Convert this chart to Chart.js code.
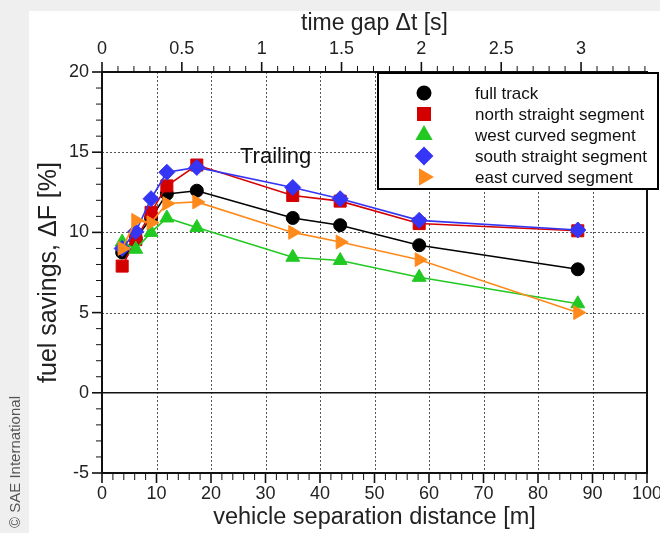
<!DOCTYPE html>
<html>
<head>
<meta charset="utf-8">
<script src="https://cdn.jsdelivr.net/npm/chart.js@4/dist/chart.umd.min.js"></script>
<style>
    html, body { margin: 0; padding: 0; background: #ffffff; }
    #wrap { width: 660px; height: 533px; }
</style>
</head>
<body>
<div id="wrap"><canvas id="fuelChart" width="660" height="533"></canvas></div>
<script>
/* -------------------------------------------------
    DATA
------------------------------------------------- */
const distance      = [3.7, 6.2, 9.0, 11.9, 17.4, 35.0, 43.7, 58.2, 87.3];
const fullTrack     = [8.75, 9.6, 10.9, 12.4, 12.6, 10.9, 10.45, 9.2, 7.7];
const northStraight = [7.9, 9.55, 11.25, 12.9, 14.2, 12.3, 11.95, 10.55, 10.1];
const westCurved    = [9.4, 8.95, 10.0, 10.9, 10.3, 8.45, 8.25, 7.2, 5.55];
const southStraight = [9.0, 10.05, 12.1, 13.75, 14.05, 12.8, 12.1, 10.75, 10.15];
const eastCurved    = [9.0, 10.75, 10.6, 11.8, 11.9, 10.0, 9.4, 8.3, 5.0];

const distanceTicks = [0, 10, 20, 30, 40, 50, 60, 70, 80, 90, 100];
const fuelTicks     = [-5, 0, 5, 10, 15, 20];
const timeTicks     = [0, 0.5, 1, 1.5, 2, 2.5, 3];
const speed = 29.3; // m/s, links the time gap axis to the distance axis

const FONT = "'Liberation Sans', Arial, sans-serif";

function points(values) {
    return values.map((v, i) => ({ x: distance[i], y: v }));
}

// fixed axis box sizes so the plot area sits where the reference has it
function fixBox(size) {
    return s => {
        if (s.isHorizontal()) s.height = size; else s.width = size;
        s.paddingLeft = 0; s.paddingRight = 0; s.paddingTop = 0; s.paddingBottom = 0;
    };
}

/* -------------------------------------------------
    DECORATION PLUGIN:
    background, dotted grid, frame, outward ticks, legend box, labels
------------------------------------------------- */
const plotDecor = {
    id: 'plotDecor',
    beforeDraw(chart) {
        const ctx = chart.ctx;
        ctx.save();
        ctx.fillStyle = '#ffffff';
        ctx.fillRect(0, 0, chart.width, chart.height);
        ctx.fillStyle = '#efefef';
        ctx.fillRect(0, 0, chart.width, 11);
        ctx.fillRect(0, 0, 29, chart.height);
        ctx.restore();
    },
    beforeDatasetsDraw(chart) {
        const { ctx, chartArea: a, scales } = chart;
        const x = scales.x, y = scales.y, t = scales.x2;
        const line = (x1, y1, x2, y2) => {
            ctx.beginPath(); ctx.moveTo(x1, y1); ctx.lineTo(x2, y2); ctx.stroke();
        };
        ctx.save();

        // dotted grid
        ctx.strokeStyle = '#555555';
        ctx.lineWidth = 1;
        ctx.setLineDash([2, 2]);
        distanceTicks.forEach(v => {
            if (v > x.min && v < x.max) {
                const px = Math.round(x.getPixelForValue(v)) + 0.5;
                line(px, a.top, px, a.bottom);
            }
        });
        fuelTicks.forEach(v => {
            if (v !== 0 && v > y.min && v < y.max) {
                const py = Math.round(y.getPixelForValue(v)) + 0.5;
                line(a.left, py, a.right, py);
            }
        });
        ctx.setLineDash([]);

        // zero line
        ctx.strokeStyle = '#111111';
        ctx.lineWidth = 1.5;
        const y0 = y.getPixelForValue(0);
        line(a.left, y0, a.right, y0);

        // minor ticks (outward)
        ctx.lineWidth = 1;
        for (let v = -5; v <= 20; v += 1) {
            if (v % 5 === 0) continue;
            const py = y.getPixelForValue(v);
            line(a.left - 6, py, a.left, py);
        }
        for (let v = 0; v <= 100; v += 2) {
            if (v % 10 === 0) continue;
            const px = x.getPixelForValue(v);
            line(px, a.bottom, px, a.bottom + 7);
        }
        for (let k = 0; k <= 34; k++) {
            if (k % 5 === 0) continue;
            const px = t.getPixelForValue(k / 10);
            line(px, a.top - 6, px, a.top);
        }

        // major ticks (outward)
        ctx.lineWidth = 1.6;
        fuelTicks.forEach(v => {
            const py = y.getPixelForValue(v);
            line(a.left - 10, py, a.left, py);
        });
        distanceTicks.forEach(v => {
            const px = x.getPixelForValue(v);
            line(px, a.bottom, px, a.bottom + 10);
        });
        timeTicks.forEach(v => {
            const px = t.getPixelForValue(v);
            line(px, a.top - 10, px, a.top);
        });

        // frame
        ctx.lineWidth = 2;
        ctx.strokeRect(a.left, a.top, a.right - a.left, a.bottom - a.top);
        ctx.restore();
    },
    afterDatasetsDraw(chart) {
        const { ctx } = chart;
        ctx.save();

        // legend box
        const box = { left: 378, top: 73, width: 280, height: 116 };
        ctx.fillStyle = '#ffffff';
        ctx.fillRect(box.left, box.top, box.width, box.height);
        ctx.strokeStyle = '#000000';
        ctx.lineWidth = 2;
        ctx.strokeRect(box.left, box.top, box.width, box.height);

        ctx.font = '17px ' + FONT;
        ctx.textAlign = 'left';
        ctx.textBaseline = 'middle';
        chart.data.datasets.forEach((ds, i) => {
            const cy = 93 + i * 21;
            ctx.fillStyle = ds.backgroundColor;
            ctx.strokeStyle = ds.borderColor;
            Chart.helpers.drawPoint(ctx, {
                pointStyle: ds.pointStyle,
                radius: ds.pointRadius,
                rotation: ds.pointRotation || 0,
                borderWidth: 1
            }, 424, cy);
            ctx.fillStyle = '#111111';
            ctx.fillText(ds.label, 475, cy + 1);
        });

        // annotation
        ctx.font = '22px ' + FONT;
        ctx.fillStyle = '#111111';
        ctx.fillText('Trailing', 240, 157);

        // copyright
        ctx.translate(16, 462);
        ctx.rotate(-Math.PI / 2);
        ctx.textAlign = 'center';
        ctx.font = '15px ' + FONT;
        ctx.fillStyle = '#555555';
        ctx.fillText('\u00A9 SAE International', 0, 0);
        ctx.restore();
    }
};

/* -------------------------------------------------
    CHART
------------------------------------------------- */
const ctx = document.getElementById('fuelChart').getContext('2d');
new Chart(ctx, {
    type: 'line',
    data: {
        datasets: [
            { label: 'full track', data: points(fullTrack), borderColor: '#000000', backgroundColor: '#000000',
              pointStyle: 'circle', pointRadius: 6.5, order: 5 },
            { label: 'north straight segment', data: points(northStraight), borderColor: '#d40000', backgroundColor: '#d40000',
              pointStyle: 'rect', pointRadius: 8.5, order: 4 },
            { label: 'west curved segment', data: points(westCurved), borderColor: '#22c922', backgroundColor: '#22c922',
              pointStyle: 'triangle', pointRadius: 8, order: 3 },
            { label: 'south straight segment', data: points(southStraight), borderColor: '#3535f5', backgroundColor: '#3535f5',
              pointStyle: 'rectRot', pointRadius: 8, order: 2 },
            { label: 'east curved segment', data: points(eastCurved), borderColor: '#ff8a1c', backgroundColor: '#ff8a1c',
              pointStyle: 'triangle', pointRotation: 90, pointRadius: 8, order: 1 }
        ]
    },
    options: {
        responsive: false,
        animation: false,
        devicePixelRatio: 1,
        layout: { padding: { left: 0, right: 13, top: 0, bottom: 0 } },
        elements: {
            line: { borderWidth: 1.6, tension: 0 },
            point: { borderWidth: 1, hoverRadius: 8 }
        },
        plugins: {
            legend: { display: false },
            tooltip: { enabled: false }
        },
        scales: {
            x: {
                type: 'linear', position: 'bottom', min: 0, max: 100,
                afterBuildTicks: s => { s.ticks = distanceTicks.map(v => ({ value: v })); },
                afterFit: fixBox(60),
                grid: { display: false, drawTicks: false },
                border: { display: false },
                ticks: { font: { family: FONT, size: 18 }, color: '#222222', padding: 10, maxRotation: 0 },
                title: { display: true, text: 'vehicle separation distance [m]', color: '#222222',
                         font: { family: FONT, size: 23.5 }, padding: { top: 0, bottom: 1 } }
            },
            x2: {
                type: 'linear', position: 'top', min: 0, max: 100 / speed,
                afterBuildTicks: s => { s.ticks = timeTicks.map(v => ({ value: v })); },
                afterFit: fixBox(72),
                grid: { display: false, drawTicks: false },
                border: { display: false },
                ticks: { font: { family: FONT, size: 18 }, color: '#222222', padding: 12, maxRotation: 0,
                         callback: v => String(v) },
                title: { display: true, text: 'time gap \u0394t [s]', color: '#222222',
                         font: { family: FONT, size: 23 }, padding: { top: 10, bottom: 0 } }
            },
            y: {
                type: 'linear', position: 'left', min: -5, max: 20,
                afterBuildTicks: s => { s.ticks = fuelTicks.map(v => ({ value: v })); },
                afterFit: fixBox(102),
                grid: { display: false, drawTicks: false },
                border: { display: false },
                ticks: { font: { family: FONT, size: 18 }, color: '#222222', padding: 13 },
                title: { display: true, text: 'fuel savings, \u0394F [%]', color: '#222222',
                         font: { family: FONT, size: 25 }, padding: { top: 34, bottom: 0 } }
            }
        }
    },
    plugins: [plotDecor]
});
</script>
</body>
</html>
